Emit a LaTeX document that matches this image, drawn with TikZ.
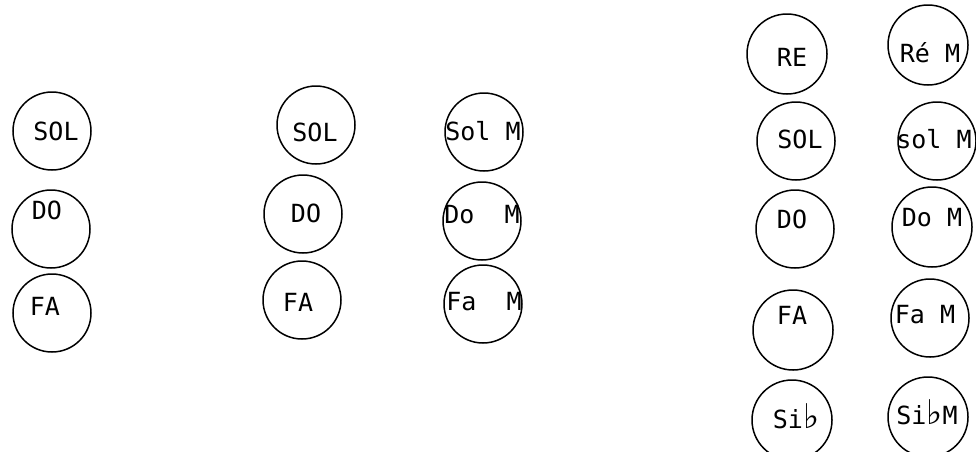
\documentclass[tikz,border=0pt]{standalone}
\usepackage{fontspec}
\newfontfamily\typefont{DejaVu Sans Mono}
\newfontfamily\flatfont{DejaVu Sans}
\newcommand{\flatsign}{{\flatfont\bfseries\fontsize{34}{34}\selectfont ♭}}
\begin{document}
\begin{tikzpicture}[x=1pt,y=-1pt,
  ring/.style={draw=black,circle,line width=1.5pt,inner sep=0pt,minimum size=78pt},
  lbl/.style={font=\typefont\fontsize{25}{25}\selectfont,inner sep=0pt,text=black}]
\useasboundingbox (0,0) rectangle (976,451);
% column 1
\node[ring] (c1a) at (52,131) {};
\node[ring] (c1b) at (51,229) {};
\node[ring] (c1c) at (52,313) {};
\node[lbl] (t1a) at (56,131) {SOL};
\node[lbl] (t1b) at (47,210) {DO};
\node[lbl] (t1c) at (45,306) {FA};
% column 2
\node[ring] (c2a) at (316,125) {};
\node[ring] (c2b) at (303,214) {};
\node[ring] (c2c) at (302,300) {};
\node[lbl] (t2a) at (315,132) {SOL};
\node[lbl] (t2b) at (306,213) {DO};
\node[lbl] (t2c) at (298,302) {FA};
% column 3
\node[ring] (c3a) at (484,132) {};
\node[ring] (c3b) at (482,221) {};
\node[ring] (c3c) at (483,304) {};
\node[lbl] (t3a) at (483,131) {Sol M};
\node[lbl] (t3b) at (482,215) {Do\ \ M};
\node[lbl] (t3c) at (484,302) {Fa\ \ M};
% column 4
\node[ring,minimum size=80pt] (c4a) at (787,54) {};
\node[ring] (c4b) at (796,141) {};
\node[ring] (c4c) at (795,229) {};
\node[ring,minimum size=80pt] (c4d) at (793,330) {};
\node[ring,minimum size=80pt] (c4e) at (792,420) {};
\node[lbl] (t4a) at (792,57) {RE};
\node[lbl] (t4b) at (800,139) {SOL};
\node[lbl] (t4c) at (792,219) {DO};
\node[lbl] (t4d) at (792,315) {FA};
\node[lbl] (t4e) at (796,416) {Si\flatsign};
% column 5
\node[ring,minimum size=80pt] (c5a) at (928,45) {};
\node[ring] (c5b) at (937,141) {};
\node[ring,minimum size=80pt] (c5c) at (932,227) {};
\node[ring] (c5d) at (930,318) {};
\node[ring,minimum size=80pt] (c5e) at (928,417) {};
\node[lbl] (t5a) at (930,53) {Ré M};
\node[lbl] (t5b) at (934,139) {sol M};
\node[lbl] (t5c) at (932,218) {Do M};
\node[lbl] (t5d) at (925,315) {Fa M};
\node[lbl] (t5e) at (927,412) {Si\flatsign M};
\end{tikzpicture}
\end{document}
